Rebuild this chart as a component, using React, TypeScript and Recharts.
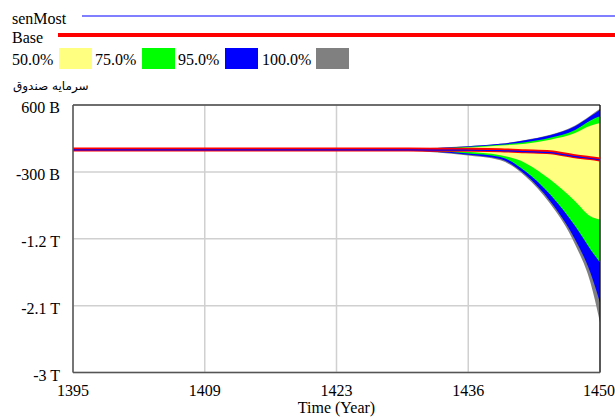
import { ComposedChart, Area, Line, XAxis, YAxis, CartesianGrid, ReferenceLine } from 'recharts';

// sensitivity run of سرمایه صندوق, values in billions
const years = [1395, 1425, 1430, 1433, 1436, 1439.6, 1442.2, 1444.8, 1447.4, 1449, 1450];
const base = [0, 0, 0, -1, -3, -9, -22, -36, -90, -115, -134];
const senMost = [-5, -5, -5, -6, -8, -14, -27, -42, -95, -120, -140];
const upper100 = [0, 3, 12, 25, 45, 80, 130, 200, 325, 460, 550];
const upper95 = [0, 2, 10, 22, 42, 77, 125, 192, 313, 447, 537];
const upper75 = [0, 1, 7, 17, 34, 65, 100, 160, 265, 393, 447];
const upper50 = [0, 1, 4, 10, 25, 54, 80, 134, 224, 322, 358];
const lower50 = [0, -1, -5, -12, -28, -75, -179, -403, -694, -896, -940];
const lower75 = [0, -2, -10, -22, -48, -100, -291, -604, -1030, -1343, -1522];
const lower95 = [0, -3, -14, -32, -65, -128, -336, -694, -1209, -1656, -2060];
const lower100 = [0, -4, -17, -38, -75, -145, -358, -730, -1276, -1790, -2328];

const xTicks = [1395, 1408.75, 1422.5, 1436.25, 1450];
const yTicks = [600, -300, -1200, -2100, -3000];

const FONT = 'Liberation Serif, DejaVu Serif, Times New Roman, serif';

const data = years.map((t, i) => ({
    t,
    base: base[i],
    senMost: senMost[i],
    band100: [lower100[i], upper100[i]],
    band95: [lower95[i], upper95[i]],
    band75: [lower75[i], upper75[i]],
    band50: [lower50[i], upper50[i]],
}));

function fmtY(v: number): string {
    return Math.abs(v) >= 1000 ? `${v / 1000} T` : `${v} B`;
}

function YTick(props: any) {
    const { y, payload } = props;
    return (
        <text x={60} y={y + 8} textAnchor="end" fontSize={16} style={{ fontFamily: FONT }} fill="#000">
            {fmtY(payload.value)}
        </text>
    );
}

function XTick(props: any) {
    const { x, payload } = props;
    return (
        <text x={x} y={396} textAnchor="middle" fontSize={16} style={{ fontFamily: FONT }} fill="#000">
            {Math.round(payload.value)}
        </text>
    );
}

const swatches = [
    { label: '50.0%', color: '#ffff80', tx: 12, sx: 59 },
    { label: '75.0%', color: '#00ff00', tx: 95, sx: 142 },
    { label: '95.0%', color: '#0000ff', tx: 178, sx: 225 },
    { label: '100.0%', color: '#808080', tx: 262, sx: 316 },
];

export default function App() {
    return (
        <div style={{ position: 'absolute', left: 0, top: 0, width: 615, height: 417, background: '#fff', fontFamily: FONT }}>
            <svg width={615} height={100} style={{ position: 'absolute', left: 0, top: 0, fontFamily: FONT }}>
                <text x={12} y={24} fontSize={16}>senMost</text>
                <line x1={82} x2={615} y1={16} y2={16} stroke="#0000ff" strokeWidth={1.2} />
                <text x={12} y={43} fontSize={16}>Base</text>
                <line x1={58} x2={615} y1={35} y2={35} stroke="#ff0000" strokeWidth={4} />
                {swatches.map((s) => (
                    <g key={s.label}>
                        <text x={s.tx} y={65} fontSize={16}>{s.label}</text>
                        <rect x={s.sx} y={48} width={33} height={21} fill={s.color} />
                    </g>
                ))}
                <text x={13} y={90} fontSize={12} style={{ fontFamily: 'DejaVu Sans, sans-serif' }}>سرمایه صندوق</text>
            </svg>
            <ComposedChart width={615} height={417} data={data} margin={{ top: 105, right: 15, bottom: 0, left: 0 }}>
                <CartesianGrid stroke="#d0d0d0" strokeWidth={1.5} horizontalValues={yTicks} verticalValues={xTicks} />
                <XAxis
                    dataKey="t"
                    type="number"
                    domain={[1395, 1450]}
                    ticks={xTicks}
                    tick={<XTick />}
                    tickLine={false}
                    axisLine={{ stroke: '#555', strokeWidth: 1.5 }}
                    height={44.5}
                    label={{
                        value: 'Time (Year)',
                        content: () => (
                            <text x={336.5} y={413} textAnchor="middle" fontSize={16} style={{ fontFamily: FONT }} fill="#000">
                                Time (Year)
                            </text>
                        ),
                    }}
                />
                <YAxis
                    type="number"
                    domain={[-3000, 600]}
                    ticks={yTicks}
                    tick={<YTick />}
                    tickLine={false}
                    axisLine={{ stroke: '#555', strokeWidth: 1.5 }}
                    width={73}
                    allowDataOverflow
                />
                <Area type="monotone" dataKey="band100" fill="#808080" fillOpacity={1} stroke="none" isAnimationActive={false} />
                <Area type="monotone" dataKey="band95" fill="#0000ff" fillOpacity={1} stroke="none" isAnimationActive={false} />
                <Area type="monotone" dataKey="band75" fill="#00ff00" fillOpacity={1} stroke="none" isAnimationActive={false} />
                <Area type="monotone" dataKey="band50" fill="#ffff80" fillOpacity={1} stroke="none" isAnimationActive={false} />
                <ReferenceLine y={600} stroke="#000" strokeWidth={1.2} />
                <ReferenceLine x={1450} stroke="#000" strokeWidth={1.2} />
                <Line type="monotone" dataKey="base" stroke="#ff0000" strokeWidth={4} dot={false} isAnimationActive={false} />
                <Line type="monotone" dataKey="senMost" stroke="#0000ff" strokeWidth={1.2} dot={false} isAnimationActive={false} />
            </ComposedChart>
        </div>
    );
}
